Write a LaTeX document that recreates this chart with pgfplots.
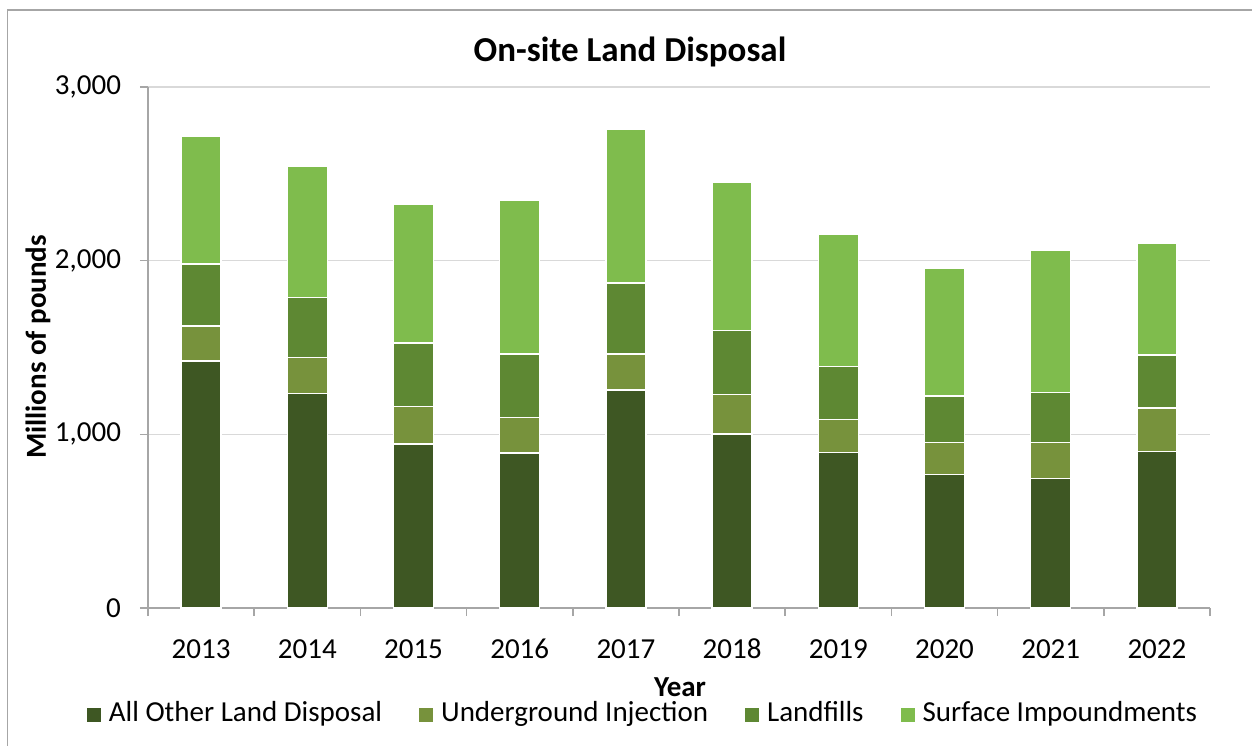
\documentclass[border=0pt]{standalone}
\usepackage{fontspec}
\setmainfont{Carlito}
\usepackage{pgfplots}
\pgfplotsset{compat=1.18}
\definecolor{cOther}{HTML}{3E5723}
\definecolor{cUI}{HTML}{77923C}
\definecolor{cLF}{HTML}{5E8833}
\definecolor{cSI}{HTML}{7FBC4D}
\definecolor{gridc}{HTML}{D9D9D9}
\definecolor{axisc}{HTML}{A6A6A6}
\definecolor{framec}{HTML}{A6A6A6}
\begin{document}
\begin{tikzpicture}
\begin{scope}[x=0.5pt,y=0.5pt]
\useasboundingbox (0,0) rectangle (1252,745);
\draw[color=framec, line width=0.75pt] (7.5,-10) -- (7.5,735) -- (1270,735);
\node[font=\fontsize{17.5}{20}\selectfont\bfseries] at (630,693) {On-site Land Disposal};
\node[font=\fontsize{14.5}{17}\selectfont\bfseries, inner sep=0pt] at (680,58) {Year};
\node[font=\fontsize{14.5}{17}\selectfont\bfseries, rotate=90] at (38,398) {Millions of pounds};
\end{scope}
\begin{axis}[
  at={(74pt,68.5pt)}, anchor=south west,
  width=531pt, height=260.5pt, scale only axis,
  xmin=-0.5, xmax=9.5, ymin=0, ymax=3000,
  ybar stacked, bar width=20pt,
  xtick={0,...,9},
  xticklabels={2013,2014,2015,2016,2017,2018,2019,2020,2021,2022},
  major x tick style={draw=none},
  minor xtick={-0.5,0.5,...,9.5},
  ytick={0,1000,2000,3000},
  ymajorgrids, grid style={color=gridc, line width=0.75pt},
  axis x line*=bottom, axis y line*=left,
  axis line style={color=axisc, line width=0.75pt},
  tick style={color=axisc, line width=0.75pt},
  tick align=outside, major tick length=4pt, minor tick length=4pt,
  ticklabel style={font=\fontsize{14.5}{16}\selectfont},
  /pgf/number format/1000 sep={,},
  /pgf/number format/assume math mode=true,
  xticklabel style={yshift=-8pt, text height=9.5pt, text depth=0pt},
  yticklabel style={xshift=-6pt},
  legend columns=4,
  legend style={draw=none, at={(0.4656,-0.2045)}, anchor=center,
    font=\fontsize{14.5}{17}\selectfont,
    nodes={inner sep=0.5pt, text height=9.5pt, text depth=2.5pt},
    /tikz/every odd column/.append style={column sep=3.5pt},
    /tikz/every even column/.append style={column sep=18pt},
    inner sep=0pt},
  legend image code/.code={\fill[#1,draw=none] (0pt,-3.5pt) rectangle (7pt,3.5pt);},
  every axis plot/.append style={draw=white, line width=0.75pt},
]
\addplot[fill=cOther] coordinates {(0,1423) (1,1234) (2,944) (3,893) (4,1255) (5,1002) (6,895) (7,770) (8,747) (9,902)};
\addplot[fill=cUI] coordinates {(0,202) (1,207) (2,217) (3,205) (4,207) (5,226) (6,191) (7,184) (8,207) (9,251)};
\addplot[fill=cLF] coordinates {(0,356) (1,348) (2,366) (3,366) (4,408) (5,370) (6,305) (7,268) (8,286) (9,305)};
\addplot[fill=cSI] coordinates {(0,737) (1,757) (2,799) (3,883) (4,885) (5,856) (6,760) (7,732) (8,821) (9,644)};
\legend{All Other Land Disposal, Underground Injection, Landfills, Surface Impoundments}
\end{axis}
\end{tikzpicture}
\end{document}
